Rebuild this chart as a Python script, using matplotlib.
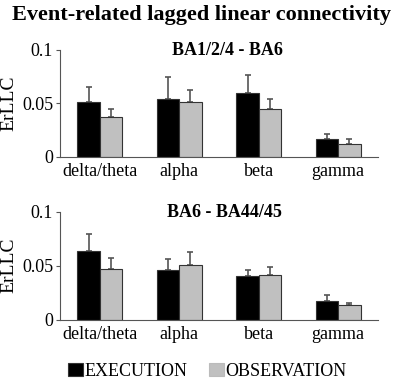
import matplotlib
matplotlib.use("Agg")
import matplotlib.pyplot as plt
import numpy as np
from matplotlib.patches import Patch

plt.rcParams['font.family'] = ['Liberation Serif', 'DejaVu Serif']

bands = ["delta/theta", "alpha", "beta", "gamma"]
series_names = ["EXECUTION", "OBSERVATION"]
panel_titles = ["BA1/2/4 - BA6", "BA6 - BA44/45"]

top_exec = [0.051, 0.054, 0.059, 0.016]
top_exec_err = [0.014, 0.020, 0.017, 0.005]
top_obs = [0.037, 0.051, 0.044, 0.012]
top_obs_err = [0.007, 0.011, 0.010, 0.004]

bot_exec = [0.064, 0.046, 0.040, 0.017]
bot_exec_err = [0.015, 0.010, 0.006, 0.006]
bot_obs = [0.047, 0.051, 0.041, 0.013]
bot_obs_err = [0.010, 0.012, 0.008, 0.002]

yticks = [0, 0.05, 0.1]
ytick_labels = ["0", "0.05", "0.1"]

colors = ["#000000", "#c0c0c0"]

fig = plt.figure(figsize=(4.0, 3.81), dpi=100)

W, H = 400, 381
def ax_rect(x0, x1, ytop, ybot):
    return [x0 / W, (H - ybot) / H, (x1 - x0) / W, (ybot - ytop) / H]

axes_specs = [
    (ax_rect(60, 378, 49.5, 156.5), top_exec, top_exec_err, top_obs, top_obs_err),
    (ax_rect(60, 378, 211.7, 319.5), bot_exec, bot_exec_err, bot_obs, bot_obs_err),
]

x = np.arange(len(bands))
bw = 0.28
for rect, ex, exe, ob, obe in axes_specs:
    ax = fig.add_axes(rect)
    for vals, errs, off, col in [(ex, exe, -bw / 2, colors[0]), (ob, obe, bw / 2, colors[1])]:
        ax.bar(x + off, vals, width=bw, color=col, edgecolor="#333333", linewidth=0.8, zorder=2)
        ax.errorbar(x + off, vals, yerr=[np.zeros(len(vals)), errs], fmt="none",
                    ecolor="#555555", elinewidth=1.2, capsize=2, capthick=1.2, zorder=1)
    ax.set_xlim(-0.5, 3.5)
    ax.set_ylim(0, 0.1)
    ax.set_yticks(yticks)
    ax.set_yticklabels(ytick_labels)
    ax.set_xticks(x)
    ax.set_xticklabels(bands)
    ax.tick_params(axis="x", length=0, pad=5, labelsize=13)
    ax.tick_params(axis="y", length=3, width=0.8, pad=2, labelsize=13, color="#555555")
    for s in ["top", "right"]:
        ax.spines[s].set_visible(False)
    for s in ["left", "bottom"]:
        ax.spines[s].set_color("#555555")
        ax.spines[s].set_linewidth(0.8)
    ax.set_ylabel("ErLLC", fontsize=14)
    ax.yaxis.set_label_coords(-0.133, 0.5)
    ax.patch.set_alpha(0)

fig.text(0.504, (H - 20) / H, "Event-related lagged linear connectivity", ha="center",
         va="baseline", fontsize=16, fontweight="bold")
fig.text(227 / W, (H - 55) / H, panel_titles[0], ha="center", va="baseline",
         fontsize=13, fontweight="bold")
fig.text(224.5 / W, (H - 217) / H, panel_titles[1], ha="center", va="baseline",
         fontsize=13, fontweight="bold")

handles = [Patch(facecolor=colors[0], edgecolor="#333333", linewidth=0.8),
           Patch(facecolor=colors[1], edgecolor="#bbbbbb", linewidth=0.8)]
fig.legend(handles, series_names, loc="center", bbox_to_anchor=(207.5 / W, 9.5 / H),
           ncol=2, frameon=False, fontsize=13, handlelength=0.8, handleheight=0.75,
           handletextpad=0.1, columnspacing=1.2, borderpad=0, borderaxespad=0)

fig.savefig("out.png", dpi=100)
